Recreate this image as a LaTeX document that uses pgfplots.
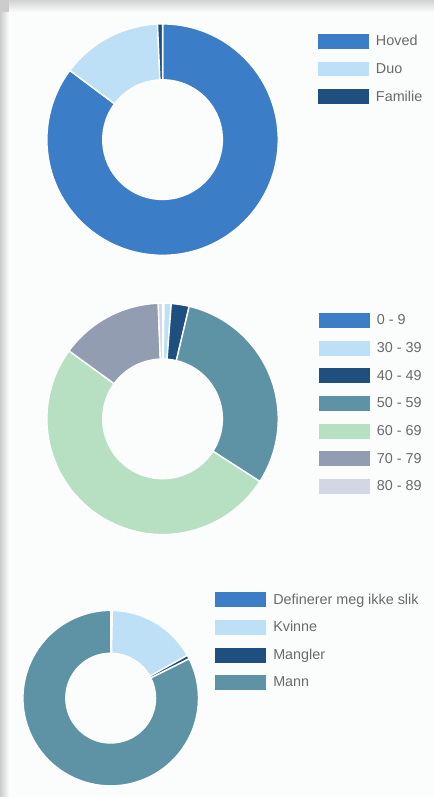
\documentclass[border=0pt]{standalone}
\usepackage{pgfplots}
\usepackage{pgfplotstable}
\pgfplotsset{compat=1.18}
\usepackage{fontspec}
\setmainfont{Liberation Sans}

\definecolor{cA}{HTML}{3B7DC6}
\definecolor{cB}{HTML}{BDE0F7}
\definecolor{cC}{HTML}{1E4F7E}
\definecolor{cD}{HTML}{5E93A6}
\definecolor{cE}{HTML}{B7E0C3}
\definecolor{cF}{HTML}{929DB2}
\definecolor{cG}{HTML}{D3D7E5}
\definecolor{bgc}{HTML}{FBFCFC}
\definecolor{txt}{HTML}{6A6A6A}

\pgfplotstableread{
v c
85.2 cA
14.1 cB
0.7 cC
}\tabA
\pgfplotstableread{
v c
0.2 cA
1.0 cB
2.5 cC
30.4 cD
50.9 cE
14.4 cF
0.6 cG
}\tabB
\pgfplotstableread{
v c
0.3 cA
16.6 cB
0.7 cC
82.4 cD
}\tabC

% #1 table, #2 cx, #3 cy, #4 outer radius, #5 inner radius
\newcommand\donut[5]{%
  \gdef\cum{0}%
  \pgfplotstableforeachcolumnelement{v}\of#1\as\val{%
    \pgfplotstablegetelem{\pgfplotstablerow}{c}\of#1
    \let\colname\pgfplotsretval
    \pgfmathsetmacro\aA{90-3.6*\cum}%
    \pgfmathsetmacro\aB{90-3.6*(\cum+\val)}%
    \pgfmathsetmacro\xA{#2+#4*cos(\aA)}%
    \pgfmathsetmacro\yA{#3+#4*sin(\aA)}%
    \pgfmathsetmacro\xB{#2+#5*cos(\aB)}%
    \pgfmathsetmacro\yB{#3+#5*sin(\aB)}%
    \edef\cmd{\noexpand\filldraw[fill=\colname, draw=white, line width=1.4pt, line join=miter]
      (axis cs:\xA,\yA) arc[start angle=\aA, end angle=\aB, radius=#4pt]
      -- (axis cs:\xB,\yB) arc[start angle=\aB, end angle=\aA, radius=#5pt] -- cycle;}%
    \cmd
    \pgfmathsetmacro\newcum{\cum+\val}%
    \global\let\cum\newcum
  }%
}

\pgfplotsset{
  donutax/.style={
    x=1pt, y=1pt, xmin=0, xmax=435, ymin=0, ymax=799,
    hide axis, at={(0,0)}, anchor=origin, clip=false,
    legend cell align=left,
    legend image code/.code={\fill[##1, draw=none] (0pt,-7.5pt) rectangle (51pt,7.5pt);},
    legend style={draw=none, fill=none, inner sep=0pt, outer sep=0pt,
      anchor=north west, row sep=12.7pt, column sep=7pt,
      nodes={inner sep=0pt, text=txt},
      font=\fontsize{14.4}{16}\selectfont},
  }
}

\begin{document}
\begin{tikzpicture}
% background and first donut
\begin{axis}[donutax, legend style={at={(axis cs:319,765)}}]
  \fill[bgc] (axis cs:0,0) rectangle (axis cs:435,799);
  \shade[left color=gray!40, right color=bgc] (axis cs:0,0) rectangle (axis cs:9,787);
  \shade[top color=gray!35, bottom color=bgc] (axis cs:9,787) rectangle (axis cs:435,799);
  \fill[gray!40] (axis cs:0,787) rectangle (axis cs:9,799);
  \donut{\tabA}{163}{659}{116}{60}
  \addlegendimage{fill=cA}\addlegendentry{Hoved}
  \addlegendimage{fill=cB}\addlegendentry{Duo}
  \addlegendimage{fill=cC}\addlegendentry{Familie}
\end{axis}
\begin{axis}[donutax, legend style={at={(axis cs:320,485)}}]
  \donut{\tabB}{163}{379}{116}{60}
  \addlegendimage{fill=cA}\addlegendentry{0 - 9}
  \addlegendimage{fill=cB}\addlegendentry{30 - 39}
  \addlegendimage{fill=cC}\addlegendentry{40 - 49}
  \addlegendimage{fill=cD}\addlegendentry{50 - 59}
  \addlegendimage{fill=cE}\addlegendentry{60 - 69}
  \addlegendimage{fill=cF}\addlegendentry{70 - 79}
  \addlegendimage{fill=cG}\addlegendentry{80 - 89}
\end{axis}
\begin{axis}[donutax, legend style={at={(axis cs:216,205)}}]
  \donut{\tabC}{111}{99}{88}{45}
  \addlegendimage{fill=cA}\addlegendentry{Definerer meg ikke slik}
  \addlegendimage{fill=cB}\addlegendentry{Kvinne}
  \addlegendimage{fill=cC}\addlegendentry{Mangler}
  \addlegendimage{fill=cD}\addlegendentry{Mann}
\end{axis}
\end{tikzpicture}
\end{document}
